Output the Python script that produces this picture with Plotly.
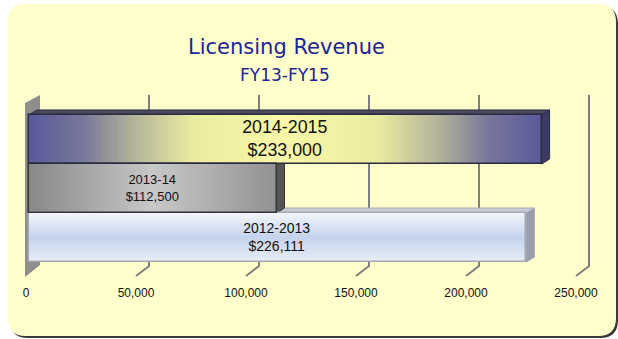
import numpy as np
import plotly.graph_objects as go

# ---- data ----
periods = ["2012-2013", "2013-14", "2014-2015"]
revenue = [226111, 112500, 233000]
tick_values = [0, 50000, 100000, 150000, 200000, 250000]
tick_labels = ["0", "50,000", "100,000", "150,000", "200,000", "250,000"]
title_text = "Licensing Revenue"
subtitle_text = "FY13-FY15"

# ---- page / plot-area geometry (pixels) ----
W, H = 618, 339
X0PX, X250PX = 29, 579                     # where 0 and 250,000 fall on the front plane
PL, PR, PT, PB = 20, 600, 95, 278          # plot area edges
Y0, Y1 = -0.8265, 2.908                    # y-axis range (bars sit at 0, 1, 2)

ux = (X250PX - X0PX) / 250000              # px per x unit
uy = (PB - PT) / (Y1 - Y0)                 # px per y unit


def X(px):
    return (px - X0PX) / ux


def Y(py):
    return Y0 + (PB - py) / uy


def PX(px):
    return (px - PL) / (PR - PL)


def PY(py):
    return (PB - py) / (PB - PT)


def path(pts):
    return "M " + " L ".join(f"{a},{b}" for a, b in pts) + " Z"


# 3D depth offsets (data units)
bdx, bdy = 8 / ux, 5 / uy          # bar depth
gdx = 10 / ux                      # back-wall offset of gridlines

fill_scales = [
    [[0, "#e8edf7"], [0.5, "#c4d3ec"], [1, "#f2f5fa"]],                 # vertical
    [[0, "#888888"], [0.5, "#c8c8c8"], [1, "#929292"]],                 # horizontal
    [[0, "#5a5a9c"], [0.1, "#76769a"], [0.2, "#b2b29a"], [0.32, "#ececa0"],
     [0.5, "#f8f8a8"], [0.68, "#ececa0"], [0.8, "#b2b29a"], [0.9, "#76769a"],
     [1, "#5a5a9c"]],
]
shade_vertical = [True, False, False]
outline_colors = ["#a4a8b4", "#333333", "#2a2a40"]
top_face_colors = ["#c9ccd4", "#6a6a6a", "#4a4a5c"]
side_face_colors = ["#9a9eaa", "#555555", "#3a3a62"]
label_sizes = [14, 13, 18]

fig = go.Figure()

# gradient fills of the bar faces
n = 160
for i, (v, cs, vert) in enumerate(zip(revenue, fill_scales, shade_vertical)):
    if vert:
        ye = np.linspace(i - 0.5, i + 0.5, 41)
        z = [[t] for t in np.linspace(0, 1, 40)]
        fig.add_trace(go.Heatmap(x=[0, v], y=ye, z=z, colorscale=cs, zmin=0, zmax=1,
                                 showscale=False, hoverinfo="skip"))
    else:
        xe = np.linspace(0, v, n + 1)
        z = [list(np.linspace(0, 1, n))]
        fig.add_trace(go.Heatmap(x=xe, y=[i - 0.5, i + 0.5], z=z, colorscale=cs,
                                 zmin=0, zmax=1, showscale=False, hoverinfo="skip"))

# the bars themselves (outline + labels)
fig.add_trace(go.Bar(
    y=list(range(len(periods))), x=revenue, orientation="h", width=1,
    marker=dict(color="rgba(0,0,0,0)", line=dict(color=outline_colors, width=1.5)),
    text=[f"{p}<br>${v:,}" for p, v in zip(periods, revenue)],
    textposition="inside", insidetextanchor="middle", textangle=0,
    textfont=dict(family="Liberation Sans, Arial, sans-serif", size=label_sizes,
                  color="#111111"),
    hovertemplate="%{text}<extra></extra>",
))

shapes = []


def rrect(x0, y0, x1, y1, r):
    return ("M {a},{b} L {c},{b} Q {x1},{b} {x1},{d} L {x1},{e} Q {x1},{f} {c},{f} "
            "L {a},{f} Q {x0},{f} {x0},{e} L {x0},{d} Q {x0},{b} {a},{b} Z").format(
        a=PX(x0 + r), b=PY(y0), c=PX(x1 - r), d=PY(y0 + r), e=PY(y1 - r),
        f=PY(y1), x0=PX(x0), x1=PX(x1))


# panel with shadow
shapes.append(dict(type="path", xref="paper", yref="paper", layer="below",
                   path=rrect(10, 6, 618, 338, 18), fillcolor="#3a3a3a",
                   line=dict(width=0)))
shapes.append(dict(type="path", xref="paper", yref="paper", layer="below",
                   path=rrect(8, 4, 616, 336, 18), fillcolor="#ffffcc",
                   line=dict(width=0)))

# left wall
shapes.append(dict(type="path", xref="x", yref="y", layer="below",
                   path=path([(X(25), Y(103)), (X(40), Y(95)), (X(40), Y(265)),
                              (X(25), Y(277))]),
                   fillcolor="#8e8e8e", line=dict(width=0)))

# gridlines on the back wall and floor ticks
for v in tick_values[1:]:
    shapes.append(dict(type="path", xref="x", yref="y", layer="below",
                       path=f"M {v + gdx},{Y(95)} L {v + gdx},{Y(266)} L {v - 3 / ux},{Y(276)}",
                       line=dict(color="#7f7f7f", width=2)))

# 3D top and side faces of the bars
for i, v in enumerate(revenue):
    top, bot = i + 0.5, i - 0.5
    shapes.append(dict(type="path", xref="x", yref="y", layer="below",
                       path=path([(0, top), (v, top), (v + bdx, top + bdy), (bdx, top + bdy)]),
                       fillcolor=top_face_colors[i], line=dict(color=outline_colors[i], width=1)))
    shapes.append(dict(type="path", xref="x", yref="y", layer="below",
                       path=path([(v, bot), (v, top), (v + bdx, top + bdy), (v + bdx, bot + bdy)]),
                       fillcolor=side_face_colors[i], line=dict(color=outline_colors[i], width=1)))

annotations = [
    dict(text=title_text, xref="paper", yref="paper", x=PX(286), y=PY(47),
         xanchor="center", yanchor="middle", showarrow=False,
         font=dict(family="DejaVu Sans, Verdana, sans-serif", size=21, color="#22229a")),
    dict(text=subtitle_text, xref="paper", yref="paper", x=PX(285), y=PY(75),
         xanchor="center", yanchor="middle", showarrow=False,
         font=dict(family="DejaVu Sans, Verdana, sans-serif", size=17, color="#22229a")),
]

fig.update_layout(
    width=W, height=H, autosize=False,
    margin=dict(l=PL, r=W - PR, t=PT, b=H - PB, pad=0),
    paper_bgcolor="white", plot_bgcolor="rgba(0,0,0,0)",
    showlegend=False, bargap=0,
    shapes=shapes, annotations=annotations,
    xaxis=dict(range=[X(PL), X(PR)], tickvals=tick_values, ticktext=tick_labels,
               showgrid=False, zeroline=False, showline=False, ticks="",
               ticklabelstandoff=6, ticklabelshift=-3,
               tickfont=dict(family="Liberation Sans, Arial, sans-serif", size=12,
                             color="#111111")),
    yaxis=dict(range=[Y0, Y1], visible=False),
)

fig.write_html("out.html")
